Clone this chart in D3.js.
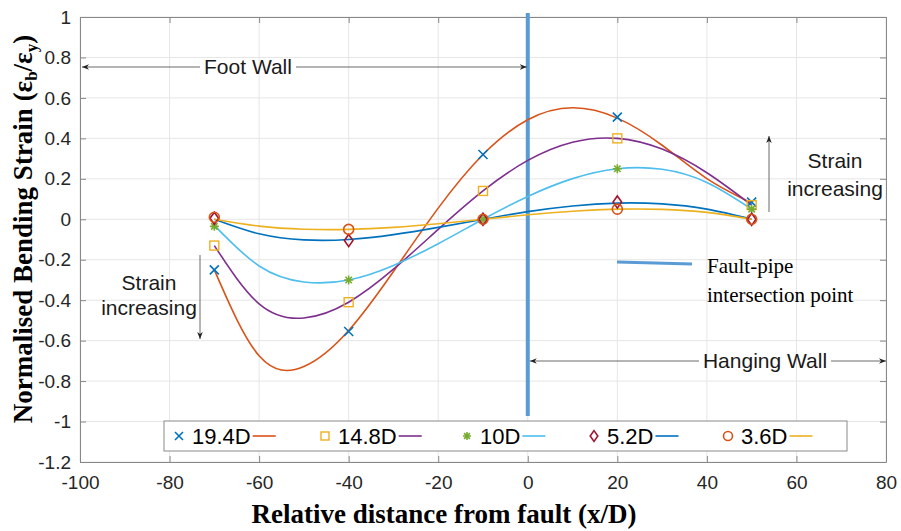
<!DOCTYPE html>
<html>
<head>
<meta charset="utf-8">
<script src="https://cdn.jsdelivr.net/npm/d3@7"></script>
<style>
  body { margin: 0; background: #fff; }
  svg { display: block; font-family: "Liberation Sans", Arial, sans-serif; }
</style>
</head>
<body>
<svg id="chart"></svg>
<script>
var width = 901;
var height = 531;

// measured points (markers)
var xPoints = [-70, -40, -10, 20, 50];
var pts194 = [-0.25, -0.555, 0.32, 0.505, 0.085];
var pts148 = [-0.13, -0.41, 0.14, 0.40, 0.07];
var pts10 = [-0.035, -0.30, 0.0, 0.25, 0.05];
var pts52 = [0.005, -0.105, 0.0, 0.085, 0.0];
var pts36 = [0.01, -0.05, 0.0, 0.05, 0.0];

// fitted curves, every 10 x/D
var xFit = [-70, -60, -50, -40, -30, -20, -10, 0, 10, 20, 30, 40, 50];
var fit194 = [-0.25, -0.675, -0.728, -0.55, -0.258, 0.055, 0.32, 0.492, 0.551, 0.50, 0.366, 0.201, 0.08];
var fit148 = [-0.13, -0.418, -0.488, -0.41, -0.247, -0.05, 0.14, 0.291, 0.381, 0.40, 0.347, 0.23, 0.07];
var fit10 = [-0.03, -0.231, -0.31, -0.30, -0.228, -0.121, 0.0, 0.113, 0.201, 0.25, 0.247, 0.182, 0.05];
var fit52 = [0.0, -0.072, -0.102, -0.10, -0.076, -0.04, 0.0, 0.038, 0.066, 0.08, 0.076, 0.05, 0.0];
var fit36 = [0.0, -0.034, -0.049, -0.05, -0.04, -0.022, 0.0, 0.022, 0.04, 0.05, 0.049, 0.034, 0.0];

var xTicks = [-100, -80, -60, -40, -20, 0, 20, 40, 60, 80];
var yTicks = [-1.2, -1, -0.8, -0.6, -0.4, -0.2, 0, 0.2, 0.4, 0.6, 0.8, 1];

var series = [
    { label: '19.4D', pts: pts194, fit: fit194, marker: 'x', mColor: '#0072BD', lColor: '#D95319' },
    { label: '14.8D', pts: pts148, fit: fit148, marker: 'square', mColor: '#EDB120', lColor: '#7E2F8E' },
    { label: '10D', pts: pts10, fit: fit10, marker: 'asterisk', mColor: '#77AC30', lColor: '#4DBEEE' },
    { label: '5.2D', pts: pts52, fit: fit52, marker: 'diamond', mColor: '#A2142F', lColor: '#0072BD' },
    { label: '3.6D', pts: pts36, fit: fit36, marker: 'circle', mColor: '#D95319', lColor: '#EDB120' }
];

var plotLeft = 80, plotRight = 886, plotTop = 17, plotBottom = 462;
var sans = '"Liberation Sans", Arial, sans-serif';
var serif = '"Liberation Serif", "Times New Roman", serif';

var svg = d3.select('#chart')
    .attr('width', width)
    .attr('height', height)
    .attr('viewBox', `0 0 ${width} ${height}`);

var x = d3.scaleLinear().domain([-100, 80]).range([plotLeft, plotRight]);
var y = d3.scaleLinear().domain([-1.2, 1]).range([plotBottom, plotTop]);

var defs = svg.append('defs');
defs.append('marker')
    .attr('id', 'arrow')
    .attr('viewBox', '0 0 10 10')
    .attr('refX', 10).attr('refY', 5)
    .attr('markerWidth', 7).attr('markerHeight', 7)
    .attr('markerUnits', 'userSpaceOnUse')
    .attr('orient', 'auto-start-reverse')
    .append('path')
    .attr('d', 'M0,1 L10,5 L0,9 L3,5 Z')
    .attr('fill', '#222');

// grid
var grid = svg.append('g');
grid.selectAll('.gx').data(xTicks).join('line')
    .attr('x1', d => x(d)).attr('x2', d => x(d))
    .attr('y1', plotTop).attr('y2', plotBottom)
    .attr('stroke', '#e6e6e6').attr('stroke-width', 1);
grid.selectAll('.gy').data(yTicks).join('line')
    .attr('x1', plotLeft).attr('x2', plotRight)
    .attr('y1', d => y(d)).attr('y2', d => y(d))
    .attr('stroke', '#e6e6e6').attr('stroke-width', 1);

// axes (box with inward ticks)
function styleAxis(g) {
    g.select('.domain').attr('stroke', '#888');
    g.selectAll('.tick line').attr('stroke', '#888');
    g.selectAll('.tick text').attr('fill', '#262626').attr('font-size', 19).attr('font-family', sans);
}

svg.append('g').attr('transform', `translate(0,${plotBottom})`)
    .call(d3.axisBottom(x).tickValues(xTicks).tickFormat(d => String(d))
        .tickSizeInner(-6).tickSizeOuter(0).tickPadding(14))
    .call(styleAxis);
svg.append('g').attr('transform', `translate(${plotLeft},0)`)
    .call(d3.axisLeft(y).tickValues(yTicks).tickFormat(d => String(+d.toFixed(1)))
        .tickSizeInner(-6).tickSizeOuter(0).tickPadding(9))
    .call(styleAxis);
svg.append('g').attr('transform', `translate(${plotRight},0)`)
    .call(d3.axisRight(y).tickValues(yTicks).tickSizeInner(-6).tickSizeOuter(0).tickFormat(''))
    .call(styleAxis);
svg.append('g').attr('transform', `translate(0,${plotTop})`)
    .call(d3.axisTop(x).tickValues(xTicks).tickSizeInner(-6).tickSizeOuter(0).tickFormat(''))
    .call(styleAxis);

// axis titles
svg.append('text')
    .attr('x', 444).attr('y', 523)
    .attr('text-anchor', 'middle')
    .attr('font-family', serif)
    .attr('font-weight', 'bold').attr('font-size', 27)
    .attr('fill', '#000')
    .text('Relative distance from fault (x/D)');

var yTitle = svg.append('text')
    .attr('transform', 'translate(32,229) rotate(-90)')
    .attr('text-anchor', 'middle')
    .attr('font-family', serif)
    .attr('font-weight', 'bold').attr('font-size', 27)
    .attr('fill', '#000');
yTitle.append('tspan').text('Normalised Bending Strain (ε');
yTitle.append('tspan').attr('font-size', 17).attr('dy', 5).text('b');
yTitle.append('tspan').attr('dy', -5).text('/ε');
yTitle.append('tspan').attr('font-size', 17).attr('dy', 5).text('y');
yTitle.append('tspan').attr('dy', -5).text(')');

// fault line
svg.append('line')
    .attr('x1', x(0)).attr('x2', x(0))
    .attr('y1', 13).attr('y2', 416)
    .attr('stroke', '#5B9BD5').attr('stroke-width', 4);

// fitted curves
var line = d3.line()
    .x((d, i) => x(xFit[i]))
    .y(d => y(d))
    .curve(d3.curveNatural);

svg.append('g').selectAll('path').data(series).join('path')
    .attr('d', d => line(d.fit))
    .attr('fill', 'none')
    .attr('stroke', d => d.lColor)
    .attr('stroke-width', 1.6);

// markers
function drawMarker(g, type, color, size) {
    var s = size;
    if (type == 'x') {
        g.append('path').attr('d', `M${-s},${-s}L${s},${s}M${-s},${s}L${s},${-s}`)
            .attr('stroke', color).attr('stroke-width', 1.6).attr('fill', 'none');
    } else if (type == 'square') {
        g.append('rect').attr('x', -s).attr('y', -s).attr('width', 2 * s).attr('height', 2 * s)
            .attr('stroke', color).attr('stroke-width', 1.4).attr('fill', 'none');
    } else if (type == 'asterisk') {
        var a = s * 0.72;
        g.append('path').attr('d', `M${-s},0L${s},0M0,${-s}L0,${s}M${-a},${-a}L${a},${a}M${-a},${a}L${a},${-a}`)
            .attr('stroke', color).attr('stroke-width', 1.6).attr('fill', 'none');
    } else if (type == 'diamond') {
        g.append('path').attr('d', `M0,${-s * 1.35}L${s * 0.95},0L0,${s * 1.35}L${-s * 0.95},0Z`)
            .attr('stroke', color).attr('stroke-width', 1.6).attr('fill', 'none');
    } else if (type == 'circle') {
        g.append('circle').attr('r', s + 0.5)
            .attr('stroke', color).attr('stroke-width', 1.6).attr('fill', 'none');
    }
}

series.forEach(function (sr) {
    sr.pts.forEach(function (v, i) {
        var g = svg.append('g').attr('transform', `translate(${x(xPoints[i])},${y(v)})`);
        drawMarker(g, sr.marker, sr.mColor, 4.5);
    });
});

// annotations
function arrowLine(x1, y1, x2, y2) {
    svg.append('line')
        .attr('x1', x1).attr('y1', y1).attr('x2', x2).attr('y2', y2)
        .attr('stroke', '#444').attr('stroke-width', 0.8)
        .attr('marker-end', 'url(#arrow)');
}

function gapArrow(x1, x2, yy, label, cx) {
    var t = svg.append('text')
        .attr('x', cx).attr('y', yy)
        .attr('dy', '0.35em')
        .attr('text-anchor', 'middle')
        .attr('font-size', 21).attr('fill', '#1a1a1a')
        .text(label);
    var bb = t.node().getBBox();
    svg.append('line').attr('x1', x1).attr('x2', bb.x - 4).attr('y1', yy).attr('y2', yy)
        .attr('stroke', '#444').attr('stroke-width', 0.8).attr('marker-start', 'url(#arrow)');
    svg.append('line').attr('x1', bb.x + bb.width + 4).attr('x2', x2).attr('y1', yy).attr('y2', yy)
        .attr('stroke', '#444').attr('stroke-width', 0.8).attr('marker-end', 'url(#arrow)');
}

gapArrow(x(-100) + 2, x(0) - 1, 67, 'Foot Wall', 248);
gapArrow(x(0) + 2, x(80), 361, 'Hanging Wall', 765);

function twoLines(cx, y1, y2) {
    svg.append('text').attr('x', cx).attr('y', y1).attr('dy', '0.35em')
        .attr('text-anchor', 'middle').attr('font-size', 21).attr('fill', '#1a1a1a').text('Strain');
    svg.append('text').attr('x', cx).attr('y', y2).attr('dy', '0.35em')
        .attr('text-anchor', 'middle').attr('font-size', 21).attr('fill', '#1a1a1a').text('increasing');
}

// strain increasing (left, pointing down)
arrowLine(200, 255, 200, 339);
twoLines(149, 283, 308);

// strain increasing (right, pointing up)
arrowLine(769, 212, 769, 136);
twoLines(835, 161, 189);

// fault-pipe key
svg.append('line')
    .attr('x1', 617).attr('y1', 262).attr('x2', 692).attr('y2', 264)
    .attr('stroke', '#5B9BD5').attr('stroke-width', 3);
svg.append('text').attr('x', 707).attr('y', 273)
    .attr('font-family', serif)
    .attr('font-size', 21).attr('fill', '#000').text('Fault-pipe');
svg.append('text').attr('x', 707).attr('y', 302)
    .attr('font-family', serif)
    .attr('font-size', 21).attr('fill', '#000').text('intersection point');

// legend
var legend = svg.append('g');
legend.append('rect')
    .attr('x', 164).attr('y', 421).attr('width', 683).attr('height', 30)
    .attr('fill', '#fff').attr('stroke', '#8a8a8a').attr('stroke-width', 1);

var legX = [179, 325, 467, 594, 728];
series.forEach(function (sr, i) {
    var g = legend.append('g').attr('transform', `translate(${legX[i]},436)`);
    drawMarker(g, sr.marker, sr.mColor, 4);
    var t = g.append('text').attr('x', 13).attr('dy', '0.35em')
        .attr('font-size', 22).attr('fill', '#000').text(sr.label);
    var w = t.node().getComputedTextLength();
    g.append('line').attr('x1', 13 + w + 2).attr('x2', 13 + w + 25)
        .attr('y1', 0).attr('y2', 0)
        .attr('stroke', sr.lColor).attr('stroke-width', 1.6);
});
</script>
</body>
</html>
